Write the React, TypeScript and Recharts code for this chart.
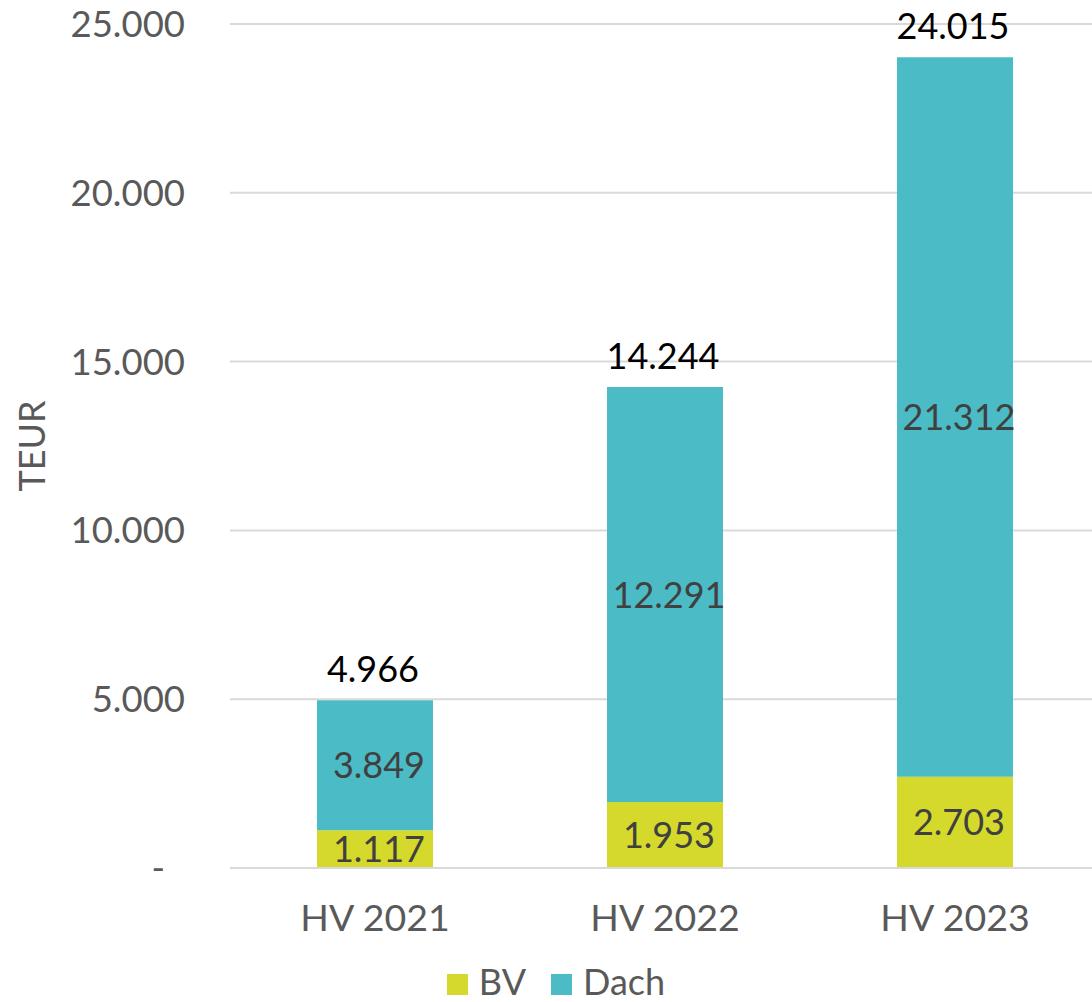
import { BarChart, Bar, CartesianGrid, XAxis, YAxis, Legend, LabelList, Label } from 'recharts';

const categories = ['HV 2021', 'HV 2022', 'HV 2023'];
const bvValues = [1117, 1953, 2703];
const dachValues = [3849, 12291, 21312];
const totals = [4966, 14244, 24015];
const yTicks = [0, 5000, 10000, 15000, 20000, 25000];

const data = categories.map((name, i) => ({ name, BV: bvValues[i], Dach: dachValues[i] }));

const FONT = 'Lato, "Noto Sans", sans-serif';
const GREY = '#595959';
const BV_COLOR = '#D4D92B';
const DACH_COLOR = '#4BBBC6';

const fmt = (v: number) => String(v).replace(/\B(?=(\d{3})+(?!\d))/g, '.');

const YTick = (props: any) => {
  const { x, y, payload } = props;
  const v = payload.value as number;
  return (
    <text x={v === 0 ? x - 20 : x} y={y} dy={13} textAnchor="end" fill={GREY} fontSize={36.5} fontFamily={FONT}>
      {v === 0 ? '-' : fmt(v)}
    </text>
  );
};

const InsideLabel = (props: any) => {
  const { x, y, width, height, value } = props;
  return (
    <text x={x + width / 2 + 4} y={y + height / 2} dy={13} textAnchor="middle" fill="#404040" fontSize={36} fontFamily={FONT}>
      {fmt(value)}
    </text>
  );
};

const TotalLabel = (props: any) => {
  const { x, y, width, index } = props;
  return (
    <text x={x + width / 2 - 2} y={y - 18} textAnchor="middle" fill="#000" fontSize={36} fontFamily={FONT}>
      {fmt(totals[index])}
    </text>
  );
};

const LegendContent = () => (
  <div style={{ display: 'flex', justifyContent: 'center', alignItems: 'baseline', height: 44, boxSizing: 'border-box', paddingTop: 5, paddingLeft: 12, fontFamily: FONT, fontSize: 36, lineHeight: '36px', color: GREY }}>
    {[
      { label: 'BV', color: BV_COLOR },
      { label: 'Dach', color: DACH_COLOR },
    ].map((item, i) => (
      <div key={item.label} style={{ display: 'flex', alignItems: 'baseline', marginLeft: i ? 25 : 0 }}>
        <span style={{ display: 'inline-block', width: 21, height: 21, background: item.color, marginRight: 11 }} />
        <span>{item.label}</span>
      </div>
    ))}
  </div>
);

export default function App() {
  return (
    <div style={{ position: 'absolute', left: 0, top: 0, width: 1092, height: 1002, overflow: 'hidden', background: '#fff' }}>
      <BarChart width={1100} height={1002} data={data} margin={{ top: 24, right: 0, left: 0, bottom: 0 }}>
        <CartesianGrid vertical={false} stroke="#D9D9D9" strokeWidth={2} />
        <XAxis
          dataKey="name"
          axisLine={{ stroke: '#D9D9D9', strokeWidth: 2 }}
          tickLine={false}
          tickSize={0}
          tickMargin={36}
          height={90}
          tick={{ fill: GREY, fontSize: 37.5, fontFamily: FONT }}
        />
        <YAxis
          width={230}
          domain={[0, 25000]}
          ticks={yTicks}
          axisLine={false}
          tickLine={false}
          tickSize={0}
          tickMargin={45}
          tick={<YTick />}
        >
          <Label
            content={(p: any) => {
              const vb = p.viewBox;
              const cy = vb.y + vb.height / 2;
              return (
                <text x={32} y={cy} transform={`rotate(-90, 32, ${cy})`} dy={13} textAnchor="middle" fill={GREY} fontSize={36} fontFamily={FONT}>
                  TEUR
                </text>
              );
            }}
          />
        </YAxis>
        <Legend verticalAlign="bottom" content={<LegendContent />} wrapperStyle={{ left: 0, width: 1100, height: 44 }} />
        <Bar dataKey="BV" stackId="a" fill={BV_COLOR} barSize={116} isAnimationActive={false}>
          <LabelList dataKey="BV" content={<InsideLabel />} />
        </Bar>
        <Bar dataKey="Dach" stackId="a" fill={DACH_COLOR} barSize={116} isAnimationActive={false}>
          <LabelList dataKey="Dach" content={<InsideLabel />} />
          <LabelList dataKey="Dach" content={<TotalLabel />} />
        </Bar>
      </BarChart>
    </div>
  );
}
